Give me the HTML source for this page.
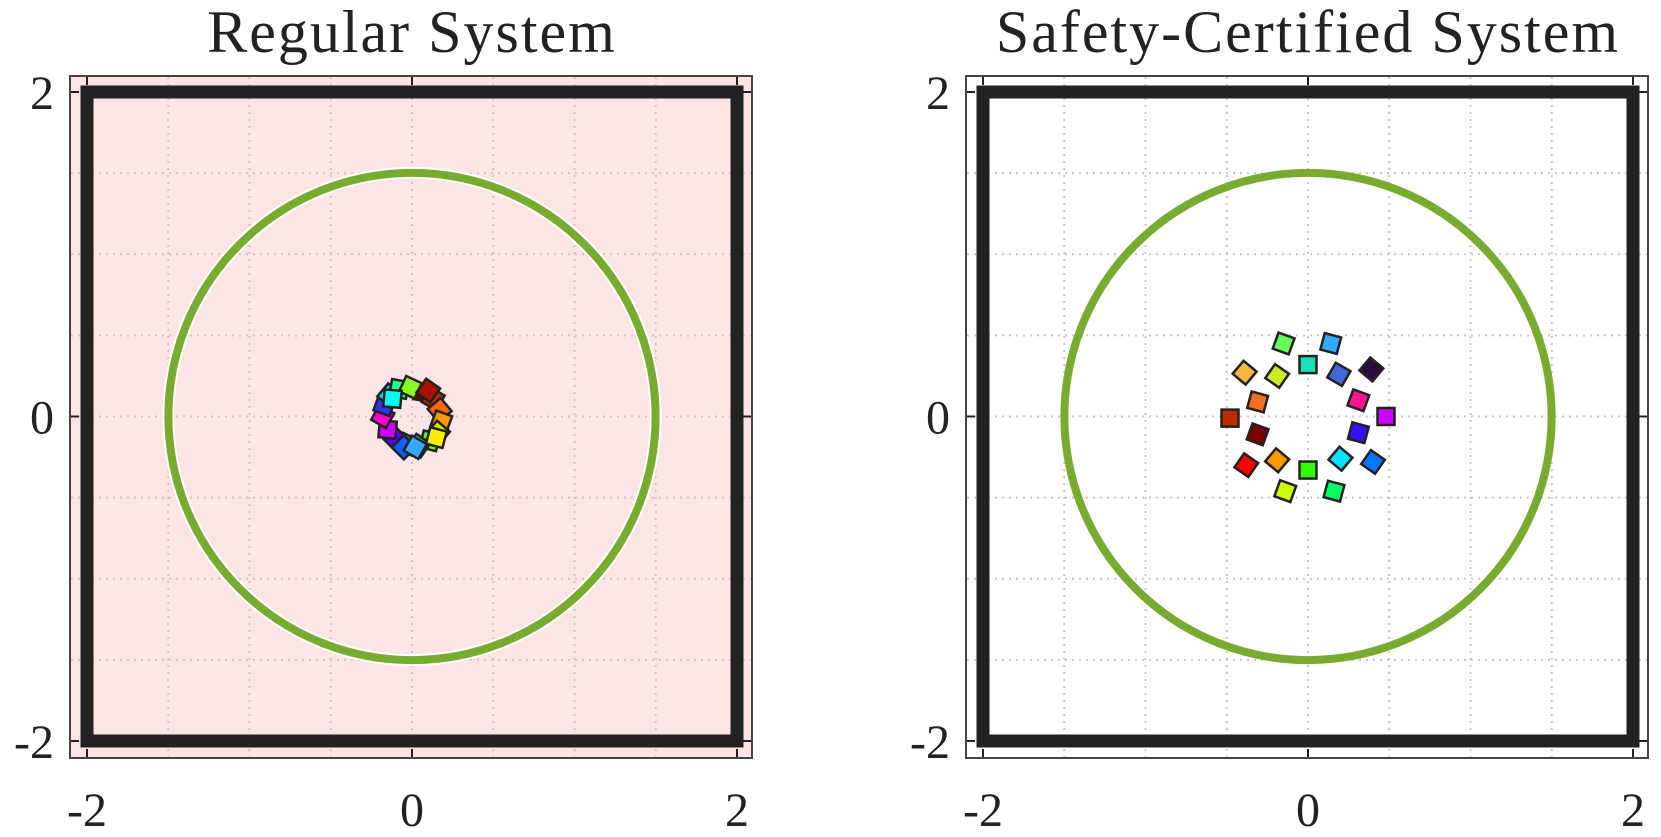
<!DOCTYPE html>
<html><head><meta charset="utf-8"><style>
html,body{margin:0;padding:0;background:#fff;}
svg{display:block;font-family:"Liberation Serif",serif;}
</style></head><body>
<svg id="fig" width="1661" height="837" viewBox="0 0 1661 837" xmlns="http://www.w3.org/2000/svg"></svg>
<script>
const tickVals=[-2,0,2];
const tickLabels=["-2","0","2"];
const gridVals=[-1.5,-1,-0.5,0.5,1,1.5];
const circleR=[1.5];
const boundary=[2];
// Safety-certified agent positions
const safeX=[-0.15,0.0,-0.39,-0.19,-0.31,-0.48,-0.31,-0.38,-0.19,0.0,0.14,0.19,0.39,0.31,0.48,0.31,0.20,0.40,0.16,-0.14];
const safeY=[0.45,0.32,0.27,0.25,0.09,-0.01,-0.11,-0.30,-0.27,-0.33,0.45,0.26,0.29,0.10,0.0,-0.10,-0.26,-0.28,-0.46,-0.46];
const safeC=["#66ff55","#1de0b8","#f8b73c","#c8ec2a","#f07020","#c02800","#7a0000","#ff0000","#ff9900","#33ff00","#33aaff","#4466dd","#2a0a3a","#ff1493","#cc00ff","#3311ff","#00e5ff","#0077ff","#00ff66","#ccff00"];
const safeRot=[20,0,40,35,15,0,20,35,40,0,15,30,40,20,0,15,40,35,15,20];
// Regular system (collapsed ring)
const regX=[0.07,0.13,0.17,0.18,0.16,0.11,0.04,-0.03,-0.10,-0.15,-0.18,-0.17,-0.14,-0.08,-0.01,0.10,0.15,-0.05,-0.12,0.02];
const regY=[0.15,0.11,0.04,-0.03,-0.10,-0.15,-0.18,-0.17,-0.14,-0.08,0.0,0.07,0.13,0.17,0.18,0.16,-0.13,-0.19,0.11,-0.19];
const regC=["#700000","#c02800","#ff6600","#ff9900","#ccee00","#66ff00","#22dd88","#3388ff","#5500ff","#cc00ff","#ff00cc","#3333ff","#00ccff","#22ff88","#88ff22","#aa1100","#ffee00","#0066ff","#00ffee","#33aaff"];
const regRot=[10,30,50,20,40,15,35,25,45,5,30,20,40,10,25,35,15,45,5,30];

const NS="http://www.w3.org/2000/svg";
const svg=document.getElementById('fig');
function mk(t,a,p){const e=document.createElementNS(NS,t);for(const k in a)e.setAttribute(k,a[k]);(p||svg).appendChild(e);return e;}

function panel(x0,title,pink,px,py,pc,prot,sz){
  const sx=v=>x0+325+v*162.5, sy=v=>416.5-v*162.25;
  const g=mk('g',{});
  
  
  const bg=mk('rect',{x:x0-17,y:76,width:682,height:682,fill:pink?'#fde5e5':'#fff',stroke:'#444','stroke-width':2},g);
  
  
  gridVals.concat([0]).forEach(v=>{
    const l1=mk('line',{x1:sx(v),x2:sx(v),y1:77,y2:757,stroke:'#c8c8c8','stroke-width':2,'stroke-dasharray':'2,5'},g);
    
    
    const l2=mk('line',{y1:sy(v),y2:sy(v),x1:x0-16,x2:x0+664,stroke:'#c8c8c8','stroke-width':2,'stroke-dasharray':'2,5'},g);
    
    
  });
  tickVals.forEach((v,i)=>{
    mk('line',{x1:sx(v),x2:sx(v),y1:757,y2:749,stroke:'#222','stroke-width':2},g);
    mk('line',{x1:sx(v),x2:sx(v),y1:77,y2:85,stroke:'#222','stroke-width':2},g);
    mk('line',{x1:x0-16,x2:x0-8,y1:sy(v),y2:sy(v),stroke:'#222','stroke-width':2},g);
    mk('line',{x1:x0+664,x2:x0+656,y1:sy(v),y2:sy(v),stroke:'#222','stroke-width':2},g);
    const tx=mk('text',{x:sx(v),y:826,'text-anchor':'middle','font-size':48,fill:'#222'},g);
    tx.textContent=tickLabels[i];
    
    
    const ty=mk('text',{x:x0-33,y:sy(v)+17,'text-anchor':'end','font-size':48,fill:'#222'},g);
    ty.textContent=tickLabels[i];
    
    
  });
  const b=boundary[0];
  const sq=mk('rect',{x:sx(-b),y:sy(b),width:sx(b)-sx(-b),height:sy(-b)-sy(b),fill:'none',stroke:'#222','stroke-width':13},g);
  
  
  const r=circleR[0]*162.4;
  if(pink) mk('circle',{cx:sx(0),cy:sy(0),r:r,fill:'none',stroke:'#fff','stroke-width':12},g);
  const c=mk('circle',{cx:sx(0),cy:sy(0),r:r,fill:'none',stroke:'#77ac30','stroke-width':8},g);
  
  
  px.forEach((v,i)=>{
    const cx=sx(v),cy=sy(py[i]);
    const s=mk('rect',{x:cx-sz/2,y:cy-sz/2,width:sz,height:sz,fill:pc[i],stroke:'#222','stroke-width':2.5,transform:`rotate(${prot[i]} ${cx} ${cy})`},g);
    
    
  });
  const t=mk('text',{x:x0+325,y:52,'text-anchor':'middle','font-size':60,'letter-spacing':2,fill:'#222'},g);
  t.textContent=title;
  
  
}
panel(87,'Regular System',true,regX,regY,regC,regRot,17);
panel(983,'Safety-Certified System',false,safeX,safeY,safeC,safeRot,17);
</script>
</body></html>
